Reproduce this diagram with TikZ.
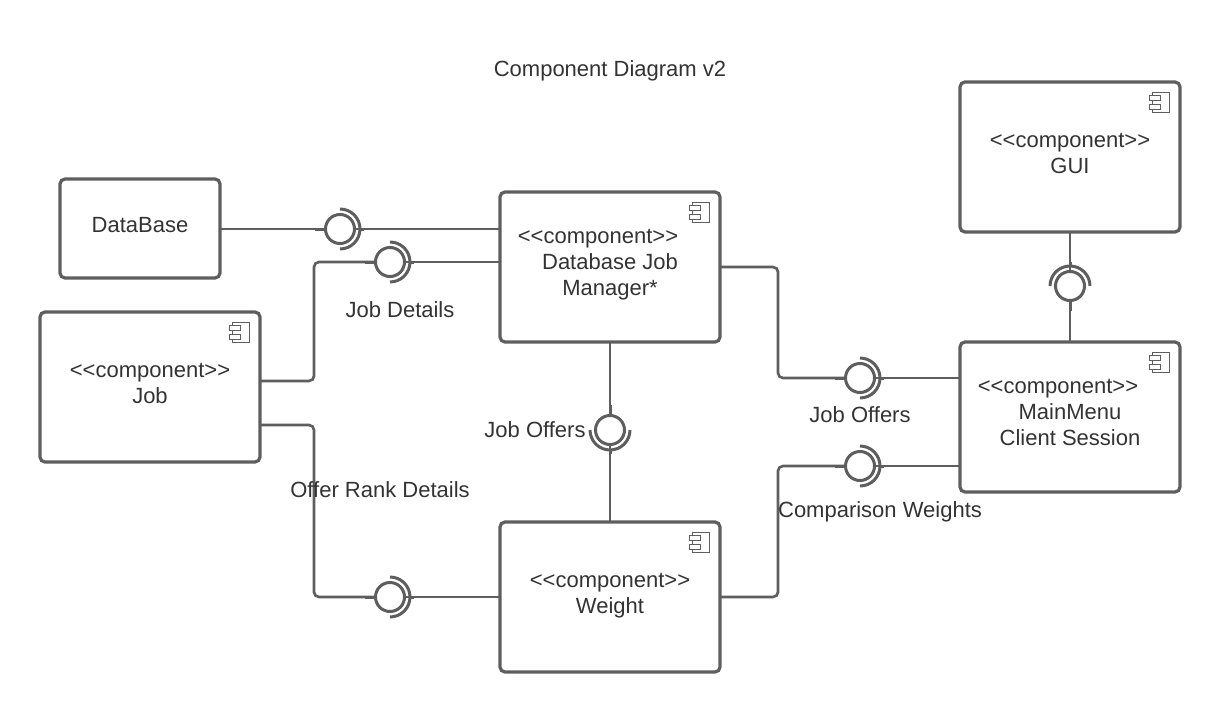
\documentclass[tikz,border=0pt]{standalone}
\usepackage{fontspec}
\setmainfont{Liberation Sans}
\definecolor{linegrey}{HTML}{5E5E5E}
\definecolor{textgrey}{HTML}{333333}
\newcommand{\compicon}[1]{%
  \draw[iconline] ([shift={(-28pt,-10pt)}]#1.north east) rectangle ([shift={(-11pt,-30pt)}]#1.north east);
  \draw[iconline,fill=white] ([shift={(-31pt,-13pt)}]#1.north east) rectangle ([shift={(-20pt,-18pt)}]#1.north east);
  \draw[iconline,fill=white] ([shift={(-31pt,-22pt)}]#1.north east) rectangle ([shift={(-20pt,-27pt)}]#1.north east);
}
\newcommand{\socket}[2]{%
  \draw[wire,line width=3pt] ([shift={(#2+90:20pt)}]#1.center) arc[start angle=#2+90,end angle=#2-90,radius=20pt];
  \draw[stub] ([shift={(#2+180:14pt)}]#1.center) -- ([shift={(#2+180:25pt)}]#1.center);
  \draw[stub] ([shift={(#2:20pt)}]#1.center) -- ([shift={(#2:24pt)}]#1.center);
}
\tikzset{
  box/.style={draw=linegrey,line width=3.2pt,rounded corners=5pt,outer sep=0pt,fill=white},
  wide/.style={box,minimum width=220pt,minimum height=150pt},
  wire/.style={draw=linegrey,line width=2.6pt},
  stub/.style={draw=linegrey,line width=3pt},
  iconline/.style={draw=linegrey,line width=1pt},
  ball/.style={circle,draw=linegrey,line width=3pt,minimum size=29pt,inner sep=0pt,outer sep=0pt,fill=white},
  txt/.style={text=textgrey,font=\fontsize{22}{26}\selectfont,inner sep=0pt,anchor=center,text height=14pt,text depth=0pt},
}
\begin{document}
\begin{tikzpicture}[x=1pt,y=-1pt]
\useasboundingbox[fill=white] (0,0) rectangle (1220,712);
\node[txt] (title) at (610,69) {Component Diagram v2};
% components
\node[box,minimum width=160pt,minimum height=99pt] (database) at (140,228.5) {};
\node[wide] (job) at (150,387) {};
\node[wide] (manager) at (610,267) {};
\node[wide] (weight) at (610,597) {};
\node[wide] (menu) at (1070,417) {};
\node[wide] (gui) at (1070,157) {};
% interface balls
\node[ball] (b1) at (340,229) {};
\node[ball] (b2) at (390,262) {};
\node[ball] (b3) at (610,430) {};
\node[ball] (b4) at (860,378) {};
\node[ball] (b5) at (860,466) {};
\node[ball] (b6) at (1070,286) {};
\node[ball] (b7) at (390,597) {};
% connectors
\coordinate (j1) at (260,381);
\coordinate (j2) at (260,425);
\coordinate (m1) at (720,267);
\coordinate (w1) at (720,597);
\draw[wire] (database.east |- b1) -- (b1);
\draw[wire] (b1) -- (manager.west |- b1);
\draw[wire,rounded corners=5pt] (j1) -- (314,381) -- (314,262) -- (b2);
\draw[wire] (b2) -- (manager.west |- b2);
\draw[wire] (manager.south) -- (b3);
\draw[wire] (b3) -- (weight.north);
\draw[wire,rounded corners=5pt] (m1) -- (778,267) -- (778,378) -- (b4);
\draw[wire] (b4) -- (menu.west |- b4);
\draw[wire,rounded corners=5pt] (w1) -- (778,597) -- (778,466) -- (b5);
\draw[wire] (b5) -- (menu.west |- b5);
\draw[wire] (gui.south) -- (b6);
\draw[wire] (b6) -- (menu.north);
\draw[wire,rounded corners=5pt] (j2) -- (314,425) -- (314,597) -- (b7);
\draw[wire] (b7) -- (weight.west |- b7);
% sockets
\socket{b1}{0}
\socket{b2}{0}
\socket{b3}{-90}
\socket{b4}{0}
\socket{b5}{0}
\socket{b6}{90}
\socket{b7}{0}
% icons
\compicon{job}
\compicon{manager}
\compicon{weight}
\compicon{menu}
\compicon{gui}
% texts
\node[txt] (t1) at (140,225) {DataBase};
\node[txt] (t2) at (150,370) {<{}<component>{}>};
\node[txt] (t3) at (150,396) {Job};
\node[txt] (t4) at (598,236) {<{}<component>{}>};
\node[txt] (t5) at (610,262) {Database Job};
\node[txt] (t6) at (610,288) {Manager*};
\node[txt] (t7) at (610,580) {<{}<component>{}>};
\node[txt] (t8) at (610,606) {Weight};
\node[txt] (t9) at (1058,386) {<{}<component>{}>};
\node[txt] (t10) at (1070,412) {MainMenu};
\node[txt] (t11) at (1070,438) {Client Session};
\node[txt] (t12) at (1070,140) {<{}<component>{}>};
\node[txt] (t13) at (1070,166) {GUI};
\node[txt] (l1) at (400,310) {Job Details};
\node[txt] (l2) at (535,430) {Job Offers};
\node[txt] (l3) at (860,415) {Job Offers};
\node[txt] (l4) at (380,490) {Offer Rank Details};
\node[txt] (l5) at (880,510) {Comparison Weights};
\end{tikzpicture}
\end{document}
